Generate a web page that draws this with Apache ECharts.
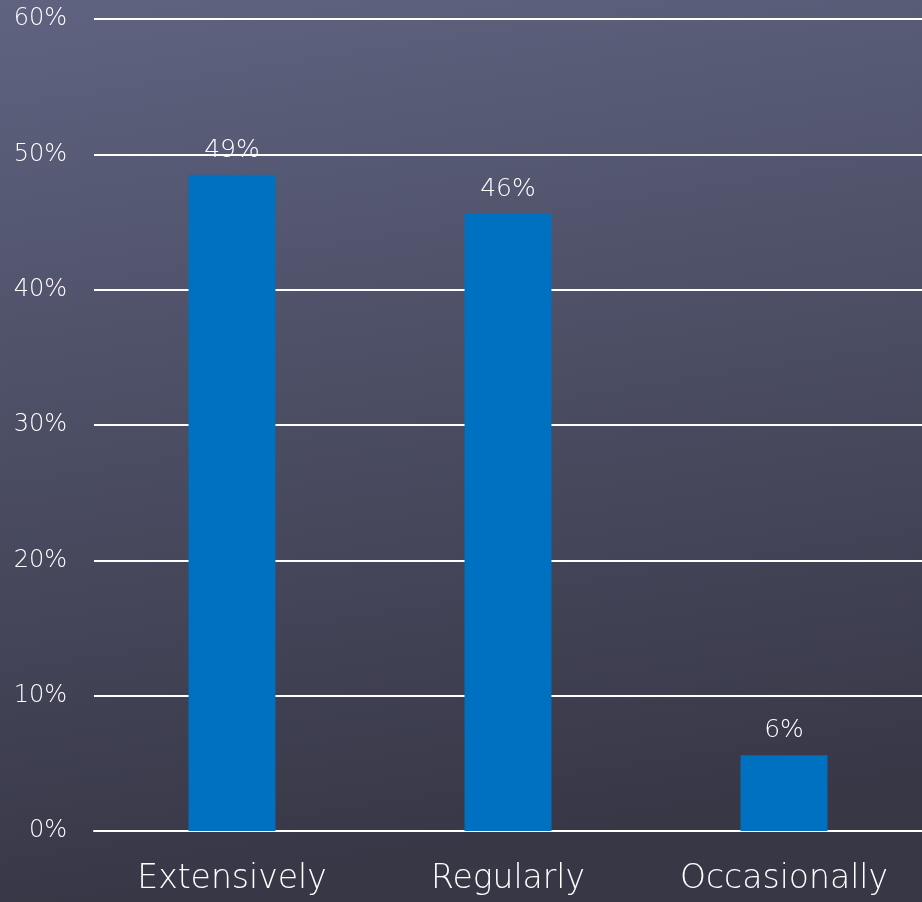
<!DOCTYPE html>
<html><head><meta charset="utf-8">
<script src="https://cdn.jsdelivr.net/npm/echarts@6/dist/echarts.min.js"></script>
<style>html,body{margin:0;padding:0;}#c{width:922px;height:902px;}</style>
</head><body><div id="c"></div>
<script>
var categories = ['Extensively', 'Regularly', 'Occasionally'];
var values = [48.5, 45.6, 5.6];
var yTicks = [0, 10, 20, 30, 40, 50, 60];

var chart = echarts.init(document.getElementById('c'));
chart.setOption({
  backgroundColor: new echarts.graphic.LinearGradient(0, 0, 0.15, 1, [
    {offset: 0, color: '#5f6380'},
    {offset: 1, color: '#373746'}
  ]),
  animation: false,
  grid: {left: 94, right: 0, top: 19, bottom: 71, containLabel: false},
  xAxis: {
    type: 'category', data: categories,
    axisLine: {show: true, lineStyle: {color: '#ffffff', width: 2}},
    axisTick: {show: false},
    axisLabel: {color: '#ffffff', fontSize: 33, fontFamily: 'DejaVu Sans', fontWeight: 300, margin: 32}
  },
  yAxis: {
    type: 'value', min: yTicks[0], max: yTicks[yTicks.length - 1], interval: 10,
    axisLine: {show: false}, axisTick: {show: false},
    splitLine: {lineStyle: {color: '#ffffff', width: 2}},
    axisLabel: {color: '#ffffff', fontSize: 24, fontFamily: 'DejaVu Sans', fontWeight: 300, margin: 27,
      formatter: function (v) { return v + '%'; }}
  },
  series: [{
    type: 'bar', data: values, barWidth: '31.5%',
    itemStyle: {color: '#0070c0'},
    label: {show: true, position: 'top', color: '#ffffff', fontSize: 25, fontFamily: 'DejaVu Sans', fontWeight: 300, distance: 12,
      formatter: function (p) { return Math.round(p.value) + '%'; }}
  }]
});
</script></body></html>
